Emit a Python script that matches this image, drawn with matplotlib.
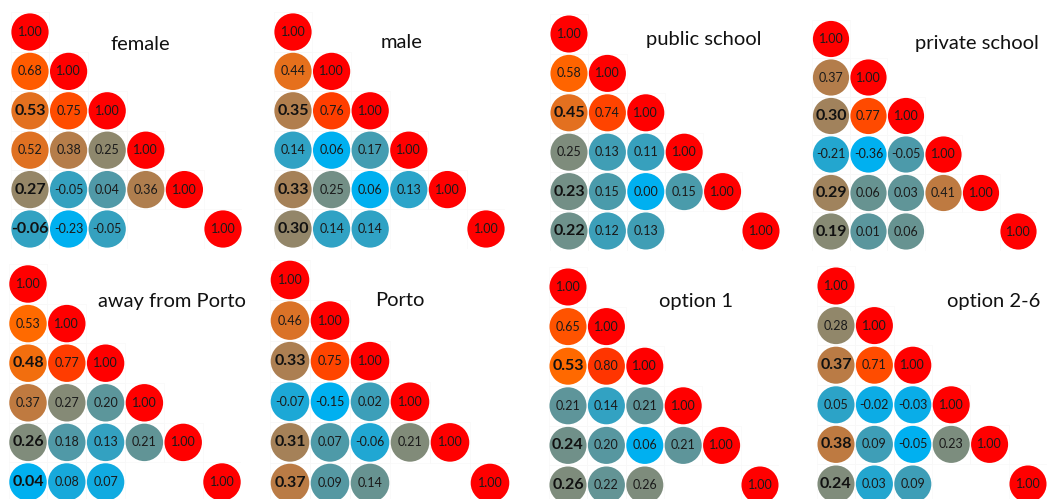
import matplotlib
matplotlib.use("Agg")
import matplotlib.pyplot as plt
from matplotlib.colors import LinearSegmentedColormap, TwoSlopeNorm
from matplotlib.patches import Rectangle

plt.rcParams['font.family'] = ['Lato', 'DejaVu Sans']

# Lower-triangular correlation matrices (None = blank cell)
titles = ["female", "male", "public school", "private school",
          "away from Porto", "Porto", "option 1", "option 2-6"]

female = [[1.00],
          [0.68, 1.00],
          [0.53, 0.75, 1.00],
          [0.52, 0.38, 0.25, 1.00],
          [0.27, -0.05, 0.04, 0.36, 1.00],
          [-0.06, -0.23, -0.05, None, None, 1.00]]

male = [[1.00],
        [0.44, 1.00],
        [0.35, 0.76, 1.00],
        [0.14, 0.06, 0.17, 1.00],
        [0.33, 0.25, 0.06, 0.13, 1.00],
        [0.30, 0.14, 0.14, None, None, 1.00]]

public_school = [[1.00],
                 [0.58, 1.00],
                 [0.45, 0.74, 1.00],
                 [0.25, 0.13, 0.11, 1.00],
                 [0.23, 0.15, 0.00, 0.15, 1.00],
                 [0.22, 0.12, 0.13, None, None, 1.00]]

private_school = [[1.00],
                  [0.37, 1.00],
                  [0.30, 0.77, 1.00],
                  [-0.21, -0.36, -0.05, 1.00],
                  [0.29, 0.06, 0.03, 0.41, 1.00],
                  [0.19, 0.01, 0.06, None, None, 1.00]]

away_from_porto = [[1.00],
                   [0.53, 1.00],
                   [0.48, 0.77, 1.00],
                   [0.37, 0.27, 0.20, 1.00],
                   [0.26, 0.18, 0.13, 0.21, 1.00],
                   [0.04, 0.08, 0.07, None, None, 1.00]]

porto = [[1.00],
         [0.46, 1.00],
         [0.33, 0.75, 1.00],
         [-0.07, -0.15, 0.02, 1.00],
         [0.31, 0.07, -0.06, 0.21, 1.00],
         [0.37, 0.09, 0.14, None, None, 1.00]]

option_1 = [[1.00],
            [0.65, 1.00],
            [0.53, 0.80, 1.00],
            [0.21, 0.14, 0.21, 1.00],
            [0.24, 0.20, 0.06, 0.21, 1.00],
            [0.26, 0.22, 0.26, None, None, 1.00]]

option_2_6 = [[1.00],
              [0.28, 1.00],
              [0.37, 0.71, 1.00],
              [0.05, -0.02, -0.03, 1.00],
              [0.38, 0.09, -0.05, 0.23, 1.00],
              [0.24, 0.03, 0.09, None, None, 1.00]]

matrices = [female, male, public_school, private_school,
            away_from_porto, porto, option_1, option_2_6]

# value at which each panel's scale turns orange
color_mid = [0.53, 0.43, 0.45, 0.56, 0.43, 0.48, 0.42, 0.46]

# cells whose labels are emphasised (row, col)
emphasised = {(2, 0), (4, 0), (5, 0)}

cmap = LinearSegmentedColormap.from_list("corr", [
    (0.00, "#00B0F0"),
    (0.50, "#E27020"),
    (0.58, "#FF6C00"),
    (0.75, "#FF4800"),
    (0.85, "#FF3000"),
    (1.00, "#FF0000"),
])

W, H = 1051, 499
# panel layout in pixels: first-cell centre x, y and cell pitch dx, dy
layout = [(30, 32, 38.6, 39.4), (293, 32, 38.6, 39.4),
          (569, 34, 38.4, 39.4), (831, 39, 37.5, 38.5),
          (28, 284, 38.8, 39.6), (290, 280, 40.0, 40.6),
          (568, 287, 38.4, 39.6), (836, 286, 38.4, 39.6)]
title_pos = [(140, 45), (402, 43), (704, 40), (977, 43),
             (172, 301), (400, 301), (696, 301), (994, 301)]

fig = plt.figure(figsize=(W / 100, H / 100), dpi=100)
fig.patch.set_facecolor("white")

for mat, title, mid, (x0, y0, dx, dy), (tx, ty) in zip(
        matrices, titles, color_mid, layout, title_pos):
    left = (x0 - 0.5 * dx) / W
    bottom = 1 - (y0 + 5.5 * dy) / H
    ax = fig.add_axes([left, bottom, 6 * dx / W, 6 * dy / H])
    ax.set_xlim(-0.5, 5.5)
    ax.set_ylim(5.5, -0.5)
    ax.axis("off")

    vals = [v for row in mat for v in row if v is not None]
    norm = TwoSlopeNorm(vmin=min(vals), vcenter=mid, vmax=max(vals))

    xs, ys, cs = [], [], []
    for r, row in enumerate(mat):
        for c, v in enumerate(row):
            if v is None:
                continue
            xs.append(c)
            ys.append(r)
            cs.append(v)
            ax.add_patch(Rectangle((c - 0.5, r - 0.5), 1, 1, fill=False,
                                   edgecolor="#f8f8f8", linewidth=0.5,
                                   zorder=0))
            if (r, c) in emphasised:
                ax.text(c, r, f"{v:.2f}", ha="center", va="center",
                        fontsize=11.5, fontweight="bold", color="#111111",
                        zorder=3)
            else:
                ax.text(c, r, f"{v:.2f}", ha="center", va="center",
                        fontsize=9, color="#1a1a1a", zorder=3)

    diam_pt = 0.965 * dx * 72 / 100
    ax.scatter(xs, ys, c=cs, cmap=cmap, norm=norm, s=diam_pt ** 2,
               marker="o", linewidths=0, zorder=2, clip_on=False)

    fig.text(tx / W, 1 - ty / H, title, ha="center", va="center",
             fontsize=14.5, color="#111111")

fig.savefig("out.png", dpi=100, facecolor="white")
